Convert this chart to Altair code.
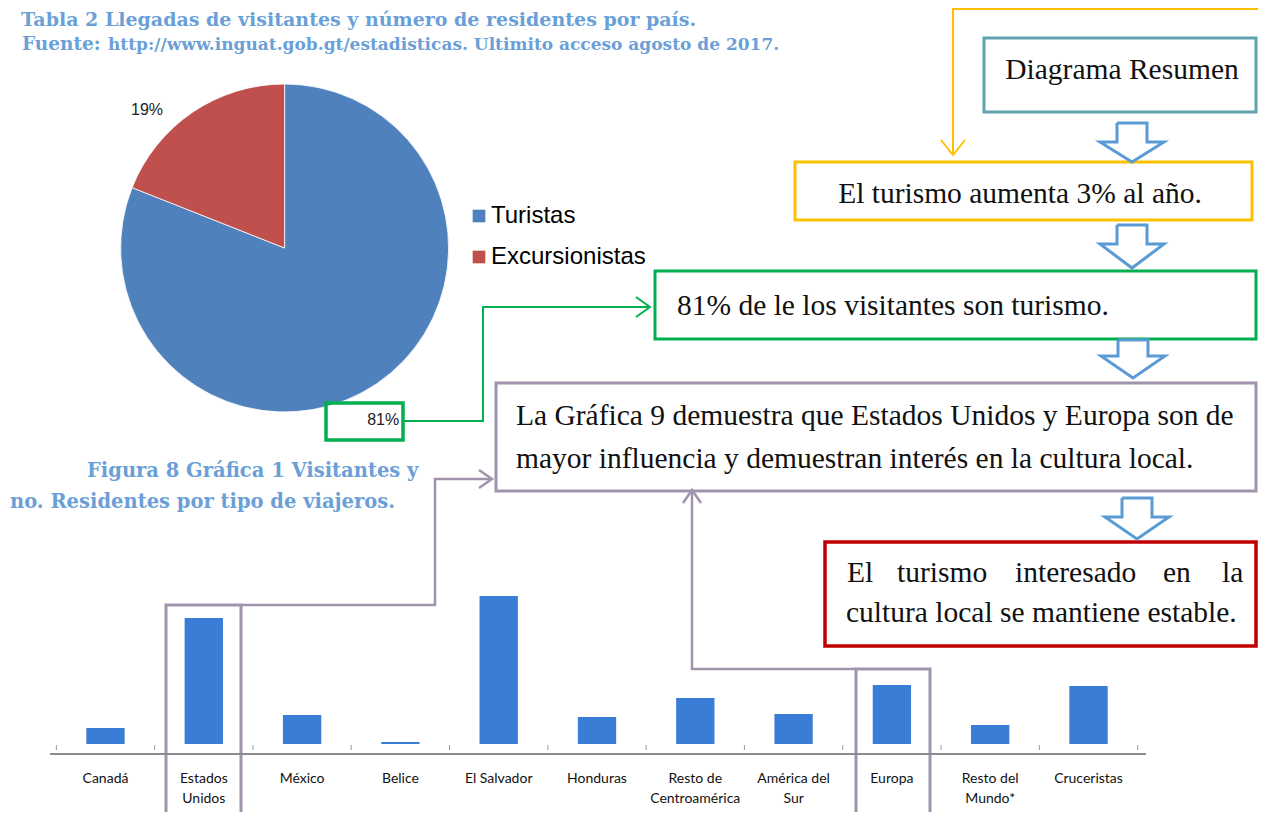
import altair as alt
import pandas as pd

# ------------------------------------------------------------------ data
pie_categories = ["Turistas", "Excursionistas"]
pie_values = [81, 19]
pie_text = ["81%", "19%"]

bar_categories = ["Canadá", "Estados Unidos", "México", "Belice", "El Salvador",
                  "Honduras", "Resto de Centroamérica", "América del Sur",
                  "Europa", "Resto del Mundo*", "Cruceristas"]
bar_tick_labels = ["Canadá", "Estados\nUnidos", "México", "Belice", "El Salvador",
                   "Honduras", "Resto de\nCentroamérica", "América del\nSur",
                   "Europa", "Resto del\nMundo*", "Cruceristas"]
bar_values = [80, 630, 145, 10, 740, 135, 230, 150, 295, 95, 290]

title_text = "Tabla 2 Llegadas de visitantes y número de residentes por país."
source_label = "Fuente:"
source_text = "http://www.inguat.gob.gt/estadisticas. Ultimito acceso agosto de 2017."
caption_lines = ["Figura 8 Gráfica 1 Visitantes y", "no. Residentes por tipo de viajeros."]
summary_title = "Diagrama Resumen"
step_texts = ["El turismo aumenta 3% al año.",
              "81% de le los visitantes son turismo.",
              "La Gráfica 9 demuestra que Estados Unidos y Europa son de",
              "mayor influencia y demuestran interés en la cultura local.",
              "cultura local se mantiene estable."]
justified_words = ["El", "turismo", "interesado", "en", "la"]

# ------------------------------------------------------------------ layout / style
W, H = 1250, 804
M = 8  # page margin
SERIF = "Liberation Serif"
CAPFONT = "DejaVu Serif"
SANS = "Liberation Sans"
PIE_COLORS = ["#4F81BD", "#C0504D"]
BAR_COLOR = "#3A7DD6"
CAPTION = "#6A9FD7"
TEAL = "#5FA3AE"
YELLOW = "#FFC000"
GREEN = "#00B050"
GRAY = "#A093AB"
RED = "#C00000"
ARROW = "#5B9BD5"
AXIS = "#8C8C8C"
RIGHT = 1256  # right border of the boxes (page edge limit)

X_PX = alt.Scale(domain=[M, M + W], range=[0, W], nice=False, zero=False)
Y_PX = alt.Scale(domain=[M, M + H], range=[0, H], nice=False, zero=False)


def text_layer(rows, font, size, color, align="left", weight="normal"):
    df = pd.DataFrame(rows, columns=["t", "x", "y"])
    return alt.Chart(df).mark_text(
        font=font, fontSize=size, color=color, align=align,
        baseline="alphabetic", fontWeight=weight
    ).encode(
        x=alt.X("x:Q", scale=X_PX, axis=None),
        y=alt.Y("y:Q", scale=Y_PX, axis=None),
        text="t:N",
    )


# boxes
box_rows = [
    (984, 38, RIGHT, 112, TEAL, 3),
    (795, 162, 1252, 220, YELLOW, 3),
    (655, 271, RIGHT, 339, GREEN, 3),
    (496, 383, RIGHT, 491, GRAY, 3),
    (825, 542, RIGHT, 646, RED, 3.5),
    (326, 403, 403, 440, GREEN, 3.5),
    (166, 605, 241, 828, GRAY, 3),
    (856, 669, 930, 829, GRAY, 3),
]
box_df = pd.DataFrame(box_rows, columns=["x0", "y0", "x1", "y1", "c", "w"])
boxes = alt.Chart(box_df).mark_rect(fillOpacity=0).encode(
    x=alt.X("x0:Q", scale=X_PX, axis=None), x2="x1:Q",
    y=alt.Y("y0:Q", scale=Y_PX, axis=None), y2="y1:Q",
    stroke=alt.Stroke("c:N", scale=None),
    strokeWidth=alt.StrokeWidth("w:Q", scale=None),
)

# connectors and block arrows
paths = [
    (YELLOW, 2, [(1258, 9), (953, 9), (953, 154)]),
    (YELLOW, 2, [(941, 140), (953, 155), (965, 140)]),
    (GREEN, 2, [(404, 421), (483, 421), (483, 307), (648, 307)]),
    (GREEN, 2, [(636, 297), (650, 307), (636, 317)]),
    (GRAY, 2.5, [(241, 605), (435, 605), (435, 479), (491, 479)]),
    (GRAY, 2.5, [(479, 470), (492, 479), (479, 488)]),
    (GRAY, 2.5, [(856, 669), (692, 669), (692, 492)]),
    (GRAY, 2.5, [(683, 503), (692, 490), (701, 503)]),
    (AXIS, 2, [(50, 754), (1146, 754)]),
]
block_arrows = [(1132, 123, 142, 162), (1132, 225, 244, 268),
                (1133, 340, 356, 378), (1137, 498, 517, 539)]
for cx, y0, ym, y1 in block_arrows:
    pts = [(cx - 15, y0), (cx + 15, y0), (cx + 15, ym), (cx + 32, ym), (cx, y1),
           (cx - 32, ym), (cx - 15, ym), (cx - 15, y0)]
    paths.append((ARROW, 3, pts))
line_rows = []
for gi, (c, w, pts) in enumerate(paths):
    for i, (x, y) in enumerate(pts):
        line_rows.append(dict(g=gi, i=i, x=x, y=y, c=c, w=w))
lines = alt.Chart(pd.DataFrame(line_rows)).mark_line(strokeJoin="miter", strokeCap="butt").encode(
    x=alt.X("x:Q", scale=X_PX, axis=None),
    y=alt.Y("y:Q", scale=Y_PX, axis=None),
    detail="g:N", order="i:Q",
    stroke=alt.Stroke("c:N", scale=None),
    strokeWidth=alt.StrokeWidth("w:Q", scale=None),
)

# texts
captions = alt.layer(
    text_layer([(title_text, 21, 26)], CAPFONT, 19, CAPTION, weight="bold"),
    text_layer([(source_label, 22, 50)], CAPFONT, 18.5, CAPTION, weight="bold"),
    text_layer([(source_text, 108, 50)], CAPFONT, 17, CAPTION, weight="bold"),
    text_layer([(caption_lines[0], 87, 477), (caption_lines[1], 10, 508)],
               CAPFONT, 19.5, CAPTION, weight="bold"),
)
centered = text_layer([(summary_title, 1122, 79), (step_texts[0], 1020, 203)],
                      SERIF, 29.5, "#111", align="center")
left_texts = text_layer([(step_texts[1], 677, 315), (step_texts[2], 516, 425),
                         (step_texts[3], 516, 468), (step_texts[4], 846, 622)],
                        SERIF, 29.5, "#111")
word_x = [847, 897, 1015, 1163, 1222]
justified = text_layer(list(zip(justified_words, word_x, [582] * 5)), SERIF, 29.5, "#111")

annotations = alt.layer(boxes, lines, captions, centered, left_texts, justified)

# ------------------------------------------------------------------ pie
pie_df = pd.DataFrame({"cat": pie_categories, "val": pie_values,
                       "lab": pie_text, "ord": list(range(len(pie_categories)))})
PIE_CX, PIE_CY, PIE_R = 284.6 - M, 248 - M, 164
arc = alt.Chart(pie_df).mark_arc(outerRadius=PIE_R, stroke="#ffffff", strokeWidth=0.8).encode(
    theta=alt.Theta("val:Q", stack=True),
    order=alt.Order("ord:Q"),
    color=alt.Color("cat:N", scale=alt.Scale(domain=pie_categories, range=PIE_COLORS),
                    legend=alt.Legend(orient="none", legendX=459, legendY=196, title=None,
                                      symbolType="square", symbolSize=160, symbolStrokeWidth=0,
                                      labelFont=SANS, labelFontSize=24, labelColor="#000",
                                      labelOffset=0, rowPadding=17, padding=0)),
    x=alt.value(PIE_CX), y=alt.value(PIE_CY),
)


def pie_label(cat, dx, dy):
    return alt.Chart(pie_df).transform_joinaggregate(
        total="sum(val)"
    ).transform_window(
        cum="sum(val)", sort=[alt.SortField("ord")]
    ).transform_calculate(
        mid="2*PI*(datum.cum - datum.val/2)/datum.total"
    ).transform_filter(
        alt.datum.cat == cat
    ).mark_text(radius=195, font=SANS, fontSize=16, color="#222", dx=dx, dy=dy).encode(
        theta=alt.Theta("mid:Q", scale=None), text="lab:N",
        x=alt.value(PIE_CX), y=alt.value(PIE_CY),
    )


pie = alt.layer(arc, pie_label("Turistas", -11, 11), pie_label("Excursionistas", -28, 23))

# ------------------------------------------------------------------ bars
bar_df = pd.DataFrame({"cat": bar_categories, "val": bar_values, "lab": bar_tick_labels})
XB = alt.Scale(domain=bar_categories, range=[56.35 - M, 1137.65 - M],
               paddingInner=0.61, paddingOuter=0.305)
YB = alt.Scale(domain=[0, 740], range=[744 - M, 596 - M], nice=False)
bars = alt.Chart(bar_df).mark_bar(color=BAR_COLOR).encode(
    x=alt.X("cat:N", scale=XB, axis=None, sort=None),
    y=alt.Y("val:Q", scale=YB, axis=None),
)
ticks = alt.Chart(bar_df).mark_rule(color="#9a9a9a", xOffset=-30).encode(
    x=alt.X("cat:N", scale=XB, axis=None, bandPosition=0),
    y=alt.value(745 - M), y2=alt.value(750 - M),
)
last_tick = alt.Chart(bar_df).transform_filter(
    alt.datum.cat == bar_categories[-1]
).mark_rule(color="#9a9a9a", xOffset=30).encode(
    x=alt.X("cat:N", scale=XB, axis=None, bandPosition=1),
    y=alt.value(745 - M), y2=alt.value(750 - M),
)
tick_labels = alt.Chart(bar_df).mark_text(
    font="Lato", fontSize=14, color="#111", baseline="top", lineBreak="\n", lineHeight=20
).encode(
    x=alt.X("cat:N", scale=XB, axis=None),
    y=alt.value(772 - M), text="lab:N",
)
bar_chart = alt.layer(bars, ticks, last_tick, tick_labels)

chart = alt.layer(bar_chart, pie, annotations).resolve_scale(
    x="independent", y="independent"
).properties(
    width=W, height=H, autosize=alt.AutoSizeParams(type="none"), padding=0, background="white"
).configure_view(stroke=None)

chart.save("out.html", embed_options={"renderer": "svg", "actions": False})
